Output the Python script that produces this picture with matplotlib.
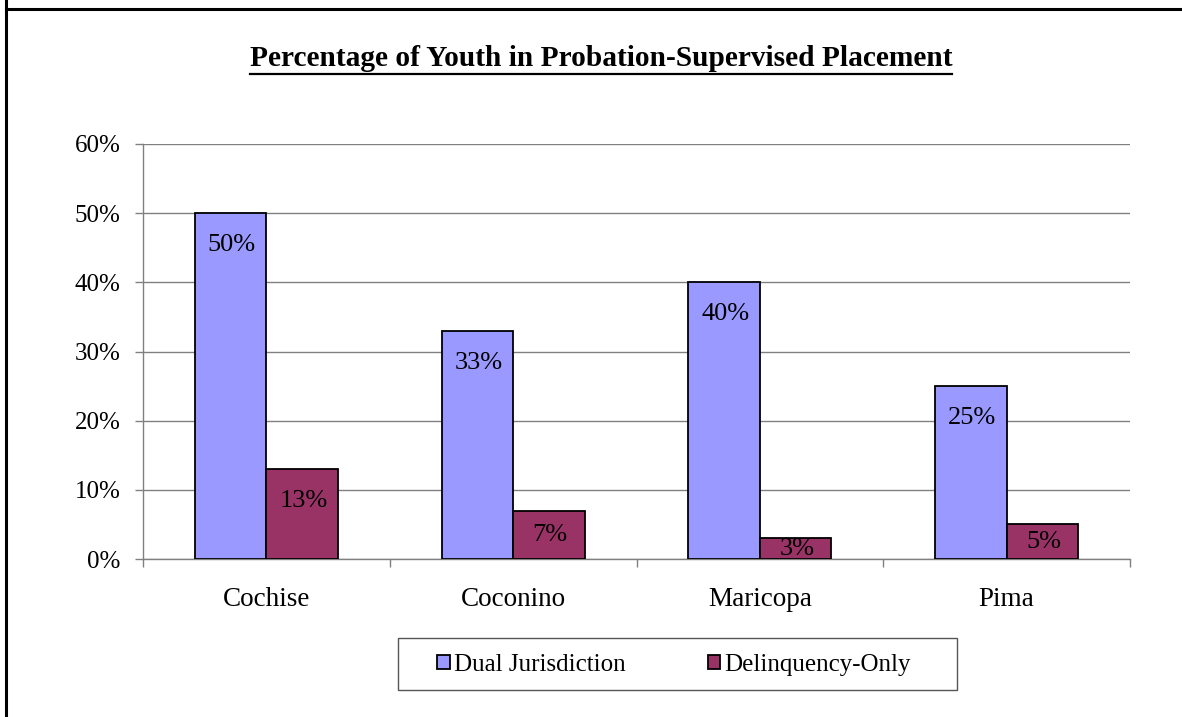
import matplotlib
matplotlib.use("Agg")
import matplotlib.pyplot as plt
from matplotlib.patches import Rectangle
from matplotlib.lines import Line2D
import numpy as np

# ---- data ----
categories = ["Cochise", "Coconino", "Maricopa", "Pima"]
series_names = ["Dual Jurisdiction", "Delinquency-Only"]
dual = [0.50, 0.33, 0.40, 0.25]
delinquency = [0.13, 0.07, 0.03, 0.05]
yticks = [0.0, 0.1, 0.2, 0.3, 0.4, 0.5, 0.6]
title = "Percentage of Youth in Probation-Supervised Placement"

colors = ["#9999FF", "#993366"]
W, H = 1182, 717
DPI = 100
SERIF = ["Liberation Serif", "DejaVu Serif"]

plt.rcParams["font.family"] = SERIF

fig = plt.figure(figsize=(W / DPI, H / DPI), dpi=DPI)
fig.patch.set_facecolor("white")

# axes placement in pixel terms
ax_l, ax_r, ax_t, ax_b = 143, 1130, 144, 559
ax = fig.add_axes([ax_l / W, 1 - ax_b / H, (ax_r - ax_l) / W, (ax_b - ax_t) / H])

n = len(categories)
centers = np.arange(n) + 0.5
bw = 0.29
series = [dual, delinquency]
offsets = [-bw / 2, bw / 2]
for vals, off, col, name in zip(series, offsets, colors, series_names):
    bars = ax.bar(centers + off, vals, width=bw, color=col, edgecolor="black",
                  linewidth=1.3, zorder=3, label=name)
    for rect, v in zip(bars, vals):
        # label inside end; for short bars centred in the bar
        ylab = v - min(0.046, v / 2)
        ax.text(rect.get_x() + rect.get_width() / 2 + 0.005, ylab, f"{round(v * 100):d}%",
                ha="center", va="center", fontsize=19, color="black", zorder=4,
                clip_on=True)

ax.set_xlim(0, n)
ax.set_ylim(0, 0.6)
ax.set_yticks(yticks)
ax.set_yticklabels([f"{round(t * 100):d}%" for t in yticks], fontsize=18)
ax.yaxis.grid(True, color="#808080", linewidth=1.0, zorder=0)
ax.set_axisbelow(True)

ax.set_xticks(np.arange(n + 1))
ax.set_xticklabels([])
ax.set_xticks(centers, minor=True)
ax.set_xticklabels(categories, minor=True, fontsize=19.5)
ax.tick_params(axis="x", which="major", length=6, width=1.0, color="#808080", direction="out")
ax.tick_params(axis="x", which="minor", length=0, pad=20)
ax.tick_params(axis="y", which="major", length=6, width=1.0, color="#808080",
               direction="out", pad=10)

for s in ["top", "right"]:
    ax.spines[s].set_visible(False)
for s in ["left", "bottom"]:
    ax.spines[s].set_color("#808080")
    ax.spines[s].set_linewidth(1.0)

# title with underline
tt = fig.text(601 / W, 1 - 59 / H, title, ha="center", va="center",
              fontsize=21.2, fontweight="bold")
fig.canvas.draw()
bb = tt.get_window_extent(renderer=fig.canvas.get_renderer())
uy = 1 - 73.5 / H
fig.add_artist(Line2D([bb.x0 / W, bb.x1 / W], [uy, uy], transform=fig.transFigure,
                      color="black", linewidth=1.6))

# legend box
lx0, lx1, ly0, ly1 = 398, 957, 638, 690
fig.add_artist(Rectangle((lx0 / W, 1 - ly1 / H), (lx1 - lx0) / W, (ly1 - ly0) / H,
                         transform=fig.transFigure, facecolor="white",
                         edgecolor="#555555", linewidth=1.0, zorder=1))
handles = [Rectangle((0, 0), 1, 1, facecolor=c, edgecolor="black", linewidth=1.3)
           for c in colors]
fig.legend(handles, series_names, loc="center",
           bbox_to_anchor=(674 / W, 1 - 665 / H),
           ncol=2, frameon=False, fontsize=18, handlelength=0.5, handleheight=0.5,
           handletextpad=0.15, columnspacing=3.3, borderpad=0)

# outer frame (left and top edges)
fig.add_artist(Line2D([5.5 / W, 5.5 / W], [0, 1], transform=fig.transFigure,
                      color="black", linewidth=2.2))
fig.add_artist(Line2D([5.5 / W, 1], [1 - 9 / H, 1 - 9 / H], transform=fig.transFigure,
                      color="black", linewidth=2.2))

fig.savefig("out.png", dpi=DPI, facecolor="white")
